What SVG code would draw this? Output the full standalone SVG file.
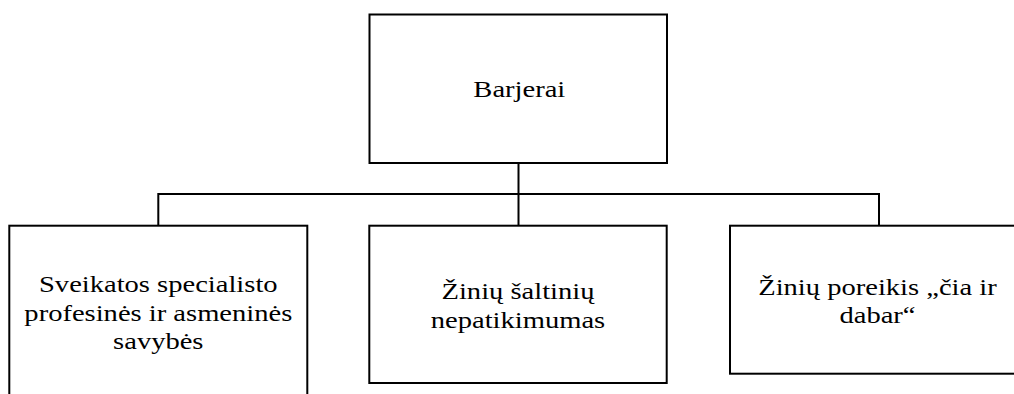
<svg xmlns="http://www.w3.org/2000/svg" width="1014" height="394" viewBox="0 0 1014 394">
  <style>
    .box { fill: #ffffff; stroke: #000000; stroke-width: 2; }
    .wire { fill: none; stroke: #000000; stroke-width: 2; }
    .lbl { font-family: 'Liberation Serif', 'Times New Roman', Times, 'DejaVu Serif', serif; font-size: 24px; fill: #000000; text-anchor: middle; }
  </style>

  <!-- tree connectors -->
  <g id="connectors">
    <path class="wire" d="M518.5,163 V225.7"/>
    <path class="wire" d="M158.3,225.7 V194 H879 V225.7"/>
  </g>

  <g id="node-barjerai">
    <rect class="box" x="369.5" y="14.5" width="297.5" height="148.5"/>
    <g transform="translate(519.3,0) scale(1.19,1)">
      <text class="lbl" x="0" y="96.7">Barjerai</text>
    </g>
  </g>

  <g id="node-savybes">
    <rect class="box" x="9.3" y="225.7" width="298" height="190"/>
    <g transform="translate(158.3,0) scale(1.19,1)">
      <text class="lbl" x="0" y="292.5">Sveikatos specialisto</text>
      <text class="lbl" x="0" y="321">profesinės ir asmeninės</text>
      <text class="lbl" x="0" y="349.5">savybės</text>
    </g>
  </g>

  <g id="node-saltiniai">
    <rect class="box" x="369.3" y="225.7" width="297.4" height="157.3"/>
    <g transform="translate(518,0) scale(1.19,1)">
      <text class="lbl" x="0" y="299.3">Žinių šaltinių</text>
      <text class="lbl" x="0" y="328.3">nepatikimumas</text>
    </g>
  </g>

  <g id="node-poreikis">
    <rect class="box" x="730" y="225.7" width="295" height="148"/>
    <g transform="translate(877.5,0) scale(1.19,1)">
      <text class="lbl" x="0" y="295">Žinių poreikis „čia ir</text>
      <text class="lbl" x="0" y="323.5">dabar“</text>
    </g>
  </g>
</svg>
